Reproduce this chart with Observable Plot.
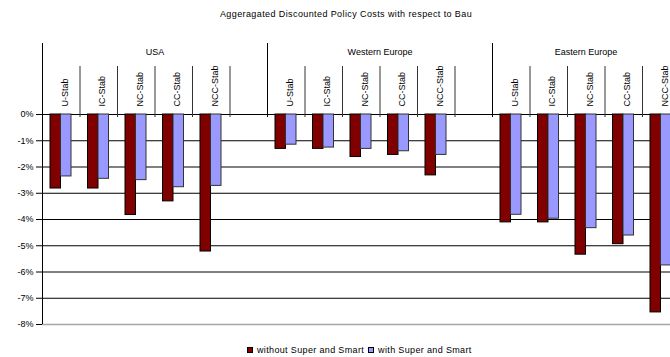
<!DOCTYPE html>
<html><head><meta charset="utf-8">
<script src="https://cdn.jsdelivr.net/npm/d3@7"></script>
<script src="https://cdn.jsdelivr.net/npm/@observablehq/plot@0.6"></script>
<style>
html,body{margin:0;padding:0;background:#fff;overflow:hidden;width:670px;height:357px;font-family:Arial,"Liberation Sans",sans-serif}
#wrap{position:relative;width:670px;height:357px;overflow:hidden}
#title{position:absolute;top:9px;left:346px;transform:translateX(-50%);white-space:nowrap;font-size:9px;letter-spacing:0.4px;color:#000}
#chart{position:absolute;top:0;left:0}
#chart svg{max-width:none !important}
#legend{position:absolute;top:345px;left:247px;white-space:nowrap;font-size:9px;letter-spacing:0.35px;color:#000;display:flex;align-items:center}
.sw{display:inline-block;width:4px;height:4px;border:1px solid #000;margin-right:4px}
.item{display:flex;align-items:center;margin-right:4px}
</style>
</head><body>
<div id="wrap">
<div id="title">Aggeragated Discounted Policy Costs with respect to Bau</div>
<div id="chart"></div>
<div id="legend"></div>
</div>
<script>
const regions = ["USA", "Western Europe", "Eastern Europe"];
const scenarios = ["U-Stab", "IC-Stab", "NC-Stab", "CC-Stab", "NCC-Stab"];
const seriesNames = ["without Super and Smart", "with Super and Smart"];
const seriesColors = ["#800000", "#9999ff"];
// values in percent, per region, per scenario
const withoutSuperSmart = [
  [-2.82, -2.82, -3.83, -3.31, -5.22],
  [-1.31, -1.31, -1.62, -1.54, -2.32],
  [-4.11, -4.11, -5.34, -4.94, -7.54]
];
const withSuperSmart = [
  [-2.36, -2.45, -2.50, -2.77, -2.72],
  [-1.15, -1.26, -1.31, -1.40, -1.54],
  [-3.82, -3.97, -4.33, -4.61, -5.75]
];
const yTicks = [0, -1, -2, -3, -4, -5, -6, -7, -8];

// slot layout: 5 scenarios + 1 empty slot per region
const slotKeys = [];
const slots = [];
regions.forEach(r => {
  [...scenarios, ""].forEach(s => {
    const k = r + "|" + s;
    slotKeys.push(k);
    slots.push({region: r, scenario: s, key: k});
  });
});
const rows = [];
regions.forEach((r, i) => scenarios.forEach((s, j) => {
  rows.push({key: r + "|" + s, series: seriesNames[0], value: withoutSuperSmart[i][j]});
  rows.push({key: r + "|" + s, series: seriesNames[1], value: withSuperSmart[i][j]});
}));

const W = 717, ML = 42, BW = (W - ML) / slotKeys.length, HALF = BW / 2;
const font = "Arial, 'Liberation Sans', sans-serif";

const plot = Plot.plot({
  width: W, height: 330,
  marginLeft: ML, marginRight: 0, marginTop: 114, marginBottom: 6,
  style: {fontFamily: font, fontSize: "9px", color: "#000", background: "transparent"},
  x: {type: "band", domain: slotKeys, padding: 0, round: false, axis: null},
  y: {domain: [-8, 0], axis: null},
  marks: [
    Plot.ruleY(yTicks.filter(d => d !== -8), {y: d => d, stroke: "#000", strokeWidth: 1}),
    Plot.ruleY(yTicks.filter(d => d === -8), {y: d => d, stroke: "#a6a6a6", strokeWidth: 1.5}),
    Plot.barY(rows.filter(d => d.series === seriesNames[0]), {x: "key", y: "value", fill: seriesColors[0], stroke: "#000", strokeWidth: 1, insetLeft: 8, insetRight: BW - 18.5}),
    Plot.barY(rows.filter(d => d.series === seriesNames[1]), {x: "key", y: "value", fill: seriesColors[1], stroke: "#333", strokeWidth: 1, insetLeft: 18.5, insetRight: BW - 29}),
    // scenario dividers on top category axis
    Plot.ruleX(slots.filter(d => d.scenario !== "U-Stab"), {x: "key", dx: -HALF, stroke: "#333", insetTop: -48, insetBottom: 207}),
    // region boundaries
    Plot.ruleX(slots.filter(d => d.scenario === "U-Stab"), {x: "key", dx: -HALF, stroke: "#000", insetTop: -71, insetBottom: 207}),
    // y axis line
    Plot.ruleX(slots.slice(0, 1), {x: "key", dx: -HALF, stroke: "#000"}),
    Plot.axisY({ticks: yTicks, tickFormat: d => d + "%", tickSize: 6, tickPadding: 3, fontSize: 9, stroke: "#000", label: null}),
    // region labels
    Plot.text(regions.slice(0, 2), {x: r => r + "|CC-Stab", dx: -HALF, frameAnchor: "top", dy: -66, text: d => d, fontSize: 9}),
    Plot.text(regions.slice(2), {x: r => r + "|CC-Stab", dx: -HALF - 19, frameAnchor: "top", dy: -66, text: d => d, fontSize: 9}),
    // scenario labels (rotated)
    Plot.text(slots.filter(d => d.scenario !== ""), {x: "key", text: "scenario", rotate: -90, textAnchor: "start", frameAnchor: "top", dy: -8, fontSize: 9})
  ]
});
document.getElementById("chart").appendChild(plot);

const leg = document.getElementById("legend");
seriesNames.forEach((n, i) => {
  const it = document.createElement("span");
  it.className = "item";
  const sw = document.createElement("span");
  sw.className = "sw";
  sw.style.background = seriesColors[i];
  it.appendChild(sw);
  it.appendChild(document.createTextNode(n));
  leg.appendChild(it);
});
</script>
</body></html>
